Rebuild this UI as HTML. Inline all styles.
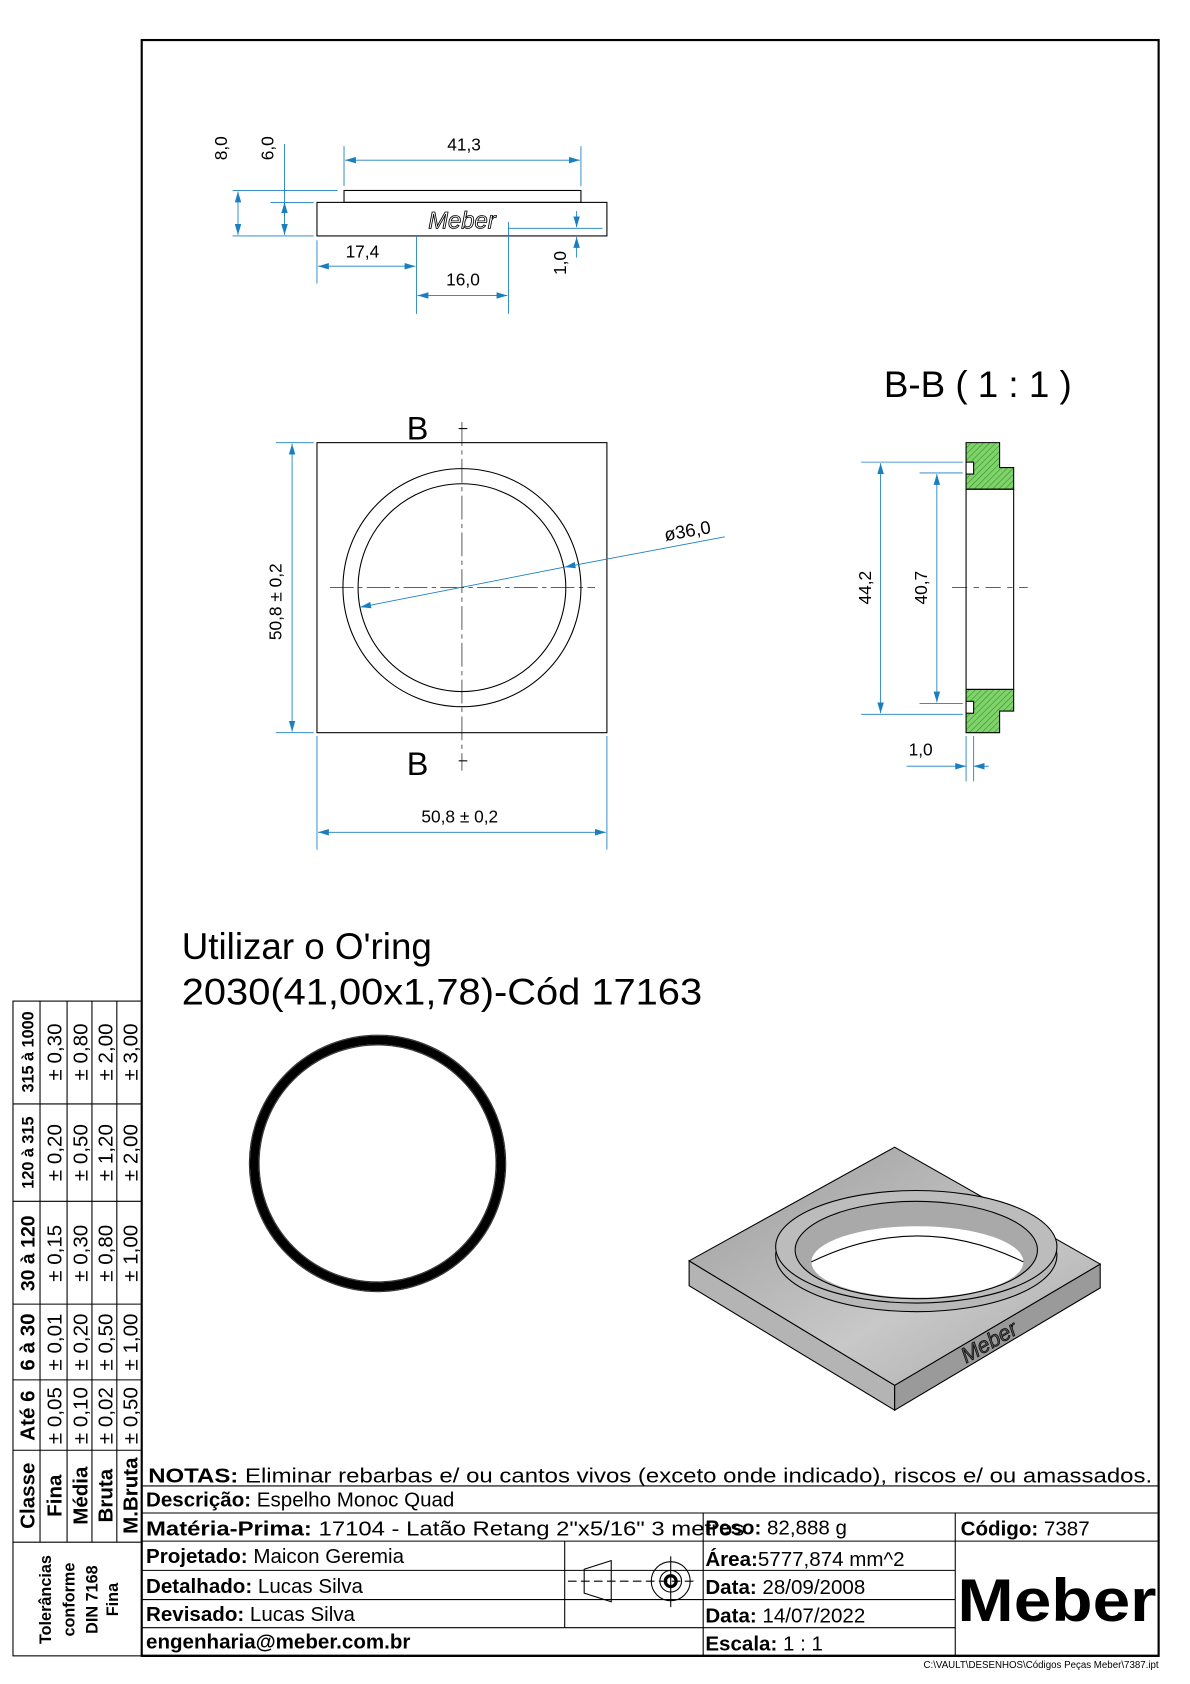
<!DOCTYPE html>
<html><head><meta charset="utf-8"><style>
html,body{margin:0;padding:0;background:#fff;}
svg{display:block;}
text{font-family:"Liberation Sans",Arial,sans-serif;}
</style></head><body>
<svg width="1190" height="1684" viewBox="0 0 1100 1556" preserveAspectRatio="none" xmlns="http://www.w3.org/2000/svg">
<defs>
<pattern id="h" width="4" height="4" patternUnits="userSpaceOnUse" patternTransform="rotate(45)">
<rect width="4" height="4" fill="#7fd36a"/><line x1="0" y1="0" x2="0" y2="4" stroke="#2e8b22" stroke-width="1"/>
</pattern>
<marker id="a" markerWidth="10" markerHeight="6" refX="10" refY="3" orient="auto-start-reverse" markerUnits="userSpaceOnUse"><path d="M0,0 L10,3 L0,6 z" fill="#1a7fc0"/></marker>
<linearGradient id="g1" x1="0" y1="0" x2="1" y2="1"><stop offset="0" stop-color="#9a9a9a"/><stop offset="0.6" stop-color="#c8c8c8"/><stop offset="1" stop-color="#a8a8a8"/></linearGradient>
</defs>
<rect x="131" y="37" width="940" height="1493" fill="none" stroke="#000" stroke-width="2"/>

<!-- top view -->
<g stroke="#000" stroke-width="1" fill="none">
<rect x="318" y="176" width="219" height="11"/>
<rect x="293" y="187" width="268" height="31"/>
</g>
<text x="427" y="211" font-size="22" font-style="italic" text-anchor="middle" fill="#fff" stroke="#000" stroke-width="0.8">Meber</text>
<g stroke="#1a7fc0" stroke-width="0.8" fill="none">
<line x1="318" y1="135" x2="318" y2="172"/><line x1="537" y1="135" x2="537" y2="172"/>
<line x1="319" y1="148" x2="536" y2="148" marker-start="url(#a)" marker-end="url(#a)"/>
<line x1="215" y1="176" x2="312" y2="176"/><line x1="215" y1="218" x2="290" y2="218"/><line x1="250" y1="187" x2="290" y2="187"/>
<line x1="220" y1="177" x2="220" y2="217" marker-start="url(#a)" marker-end="url(#a)"/>
<line x1="263" y1="133" x2="263" y2="217" marker-end="url(#a)"/>
<line x1="263" y1="187" x2="263" y2="200" marker-start="url(#a)"/>
<line x1="293" y1="222" x2="293" y2="262"/><line x1="385" y1="218" x2="385" y2="290"/><line x1="470" y1="205" x2="470" y2="290"/>
<line x1="294" y1="246" x2="384" y2="246" marker-start="url(#a)" marker-end="url(#a)"/>
<line x1="386" y1="273" x2="469" y2="273" marker-start="url(#a)" marker-end="url(#a)"/>
<line x1="470" y1="211" x2="557" y2="211"/>
<line x1="533" y1="195" x2="533" y2="210" marker-end="url(#a)"/>
<line x1="533" y1="238" x2="533" y2="219" marker-end="url(#a)"/>
</g>
<g font-size="16" fill="#000">
<text x="429" y="139" text-anchor="middle">41,3</text>
<text x="335" y="238" text-anchor="middle">17,4</text>
<text x="428" y="264" text-anchor="middle">16,0</text>
<text transform="translate(210,137) rotate(-90)" text-anchor="middle">8,0</text>
<text transform="translate(253,137) rotate(-90)" text-anchor="middle">6,0</text>
<text transform="translate(523,243) rotate(-90)" text-anchor="middle">1,0</text>
</g>

<!-- front view -->
<rect x="293" y="409" width="268" height="268" fill="none" stroke="#000" stroke-width="1"/>
<circle cx="427" cy="543" r="110" fill="none" stroke="#000" stroke-width="1"/>
<circle cx="427" cy="543" r="96" fill="none" stroke="#000" stroke-width="1"/>
<g stroke="#000" stroke-width="0.6" stroke-dasharray="22,4,4,4">
<line x1="305" y1="543" x2="550" y2="543"/><line x1="427" y1="390" x2="427" y2="712"/>
</g>
<line x1="424" y1="396" x2="432" y2="396" stroke="#000"/><line x1="424" y1="703" x2="432" y2="703" stroke="#000"/>
<text x="376" y="406" font-size="30">B</text>
<text x="376" y="716" font-size="30">B</text>
<g stroke="#1a7fc0" stroke-width="0.8" fill="none">
<line x1="670" y1="496" x2="522" y2="524" marker-end="url(#a)"/>
<line x1="522" y1="524" x2="333" y2="561" marker-end="url(#a)"/>
<line x1="255" y1="409" x2="290" y2="409"/><line x1="255" y1="677" x2="290" y2="677"/>
<line x1="270" y1="410" x2="270" y2="676" marker-start="url(#a)" marker-end="url(#a)"/>
<line x1="293" y1="680" x2="293" y2="785"/><line x1="561" y1="680" x2="561" y2="785"/>
<line x1="294" y1="769" x2="560" y2="769" marker-start="url(#a)" marker-end="url(#a)"/>
</g>
<text transform="translate(615,500) rotate(-10)" font-size="17">ø36,0</text>
<text transform="translate(260,556) rotate(-90)" font-size="16" text-anchor="middle">50,8 ± 0,2</text>
<text x="425" y="760" font-size="16" text-anchor="middle">50,8 ± 0,2</text>

<!-- section -->
<text x="817" y="367" font-size="34">B-B ( 1 : 1 )</text>
<path d="M893,409 H924 V432 H937 V452 H893 Z" fill="url(#h)" stroke="#000" stroke-width="1"/>
<path d="M893,677 H924 V657 H937 V637 H893 Z" fill="url(#h)" stroke="#000" stroke-width="1"/>
<rect x="893" y="427" width="7" height="11" fill="#fff" stroke="#000" stroke-width="1"/>
<rect x="893" y="648" width="7" height="11" fill="#fff" stroke="#000" stroke-width="1"/>
<rect x="893" y="452" width="44" height="185" fill="none" stroke="#000" stroke-width="1"/>
<line x1="880" y1="543" x2="950" y2="543" stroke="#000" stroke-width="0.6" stroke-dasharray="14,6,5,6"/>
<g stroke="#1a7fc0" stroke-width="0.8" fill="none">
<line x1="796" y1="427" x2="890" y2="427"/><line x1="796" y1="660" x2="890" y2="660"/>
<line x1="850" y1="437" x2="890" y2="437"/><line x1="850" y1="650" x2="890" y2="650"/>
<line x1="814" y1="428" x2="814" y2="659" marker-start="url(#a)" marker-end="url(#a)"/>
<line x1="866" y1="438" x2="866" y2="649" marker-start="url(#a)" marker-end="url(#a)"/>
<line x1="893" y1="680" x2="893" y2="722"/><line x1="900" y1="680" x2="900" y2="722"/>
<line x1="838" y1="708" x2="893" y2="708" marker-end="url(#a)"/>
<line x1="914" y1="708" x2="900" y2="708" marker-end="url(#a)"/>
</g>
<text transform="translate(805,543) rotate(-90)" font-size="16" text-anchor="middle">44,2</text>
<text transform="translate(857,543) rotate(-90)" font-size="16" text-anchor="middle">40,7</text>
<text x="851" y="698" font-size="16" text-anchor="middle">1,0</text>

<!-- note -->
<text x="168" y="886" font-size="34">Utilizar o O'ring</text>
<text x="168" y="928" font-size="34" textLength="481" lengthAdjust="spacingAndGlyphs">2030(41,00x1,78)-Cód 17163</text>

<!-- o-ring -->
<circle cx="349" cy="1075" r="114" fill="none" stroke="#000" stroke-width="8"/>
<circle cx="349" cy="1075" r="118.5" fill="none" stroke="#333" stroke-width="1"/>
<circle cx="349" cy="1075" r="109.5" fill="none" stroke="#333" stroke-width="1"/>

<!-- iso -->
<path d="M637,1165 L827,1280 L827,1303 L637,1188 Z" fill="#b4b4b4" stroke="#000" stroke-width="1"/>
<path d="M827,1280 L1017,1168 L1017,1190 L827,1303 Z" fill="#9a9a9a" stroke="#000" stroke-width="1"/>
<path d="M827,1060 L1017,1168 L827,1280 L637,1165 Z" fill="url(#g1)" stroke="#000" stroke-width="1"/>
<ellipse cx="847" cy="1160" rx="130" ry="52" fill="#b8b8b8" stroke="#000" stroke-width="1"/>
<ellipse cx="847" cy="1152" rx="130" ry="52" fill="#bcbcbc" stroke="#000" stroke-width="1"/>
<ellipse cx="847" cy="1155" rx="112" ry="45" fill="#a9a9a9" stroke="#000" stroke-width="1"/>
<ellipse cx="848" cy="1166" rx="98" ry="33" fill="#fff"/>
<path d="M750,1166 Q848,1118 946,1166" fill="none" stroke="#000" stroke-width="1"/>
<text transform="translate(893,1260) rotate(-30)" font-size="20" font-style="italic" fill="#555" stroke="#000" stroke-width="0.6">Meber</text>

<!-- tolerance table -->
<g stroke="#000" stroke-width="1" fill="none">
<rect x="12" y="925" width="119" height="605"/>
<line x1="37" y1="925" x2="37" y2="1425"/><line x1="62" y1="925" x2="62" y2="1425"/>
<line x1="85" y1="925" x2="85" y2="1425"/><line x1="108" y1="925" x2="108" y2="1425"/>
<line x1="12" y1="1425" x2="131" y2="1425"/><line x1="12" y1="1340" x2="131" y2="1340"/>
<line x1="12" y1="1275" x2="131" y2="1275"/><line x1="12" y1="1205" x2="131" y2="1205"/>
<line x1="12" y1="1110" x2="131" y2="1110"/><line x1="12" y1="1020" x2="131" y2="1020"/>
</g>
<g font-size="19" fill="#000">
<g font-weight="bold">
<text transform="translate(32,1382) rotate(-90)" text-anchor="middle">Classe</text>
<text transform="translate(32,1308) rotate(-90)" text-anchor="middle">Até 6</text>
<text transform="translate(32,1240) rotate(-90)" text-anchor="middle">6 à 30</text>
<text transform="translate(32,1158) rotate(-90)" text-anchor="middle" font-size="18">30 à 120</text>
<text transform="translate(31,1065) rotate(-90)" text-anchor="middle" font-size="15">120 à 315</text>
<text transform="translate(31,972) rotate(-90)" text-anchor="middle" font-size="15">315 à 1000</text>
<text transform="translate(57,1382) rotate(-90)" text-anchor="middle">Fina</text>
<text transform="translate(81,1382) rotate(-90)" text-anchor="middle">Média</text>
<text transform="translate(104,1382) rotate(-90)" text-anchor="middle">Bruta</text>
<text transform="translate(127,1382) rotate(-90)" text-anchor="middle">M.Bruta</text>
<g font-size="15"><text transform="translate(47,1478) rotate(-90)" text-anchor="middle">Tolerâncias</text>
<text transform="translate(69,1478) rotate(-90)" text-anchor="middle">conforme</text>
<text transform="translate(90,1478) rotate(-90)" text-anchor="middle">DIN 7168</text>
<text transform="translate(109,1478) rotate(-90)" text-anchor="middle">Fina</text></g>
</g>
<g>
<text transform="translate(57,1308) rotate(-90)" text-anchor="middle">± 0,05</text>
<text transform="translate(81,1308) rotate(-90)" text-anchor="middle">± 0,10</text>
<text transform="translate(104,1308) rotate(-90)" text-anchor="middle">± 0,02</text>
<text transform="translate(127,1308) rotate(-90)" text-anchor="middle">± 0,50</text>
<text transform="translate(57,1240) rotate(-90)" text-anchor="middle">± 0,01</text>
<text transform="translate(81,1240) rotate(-90)" text-anchor="middle">± 0,20</text>
<text transform="translate(104,1240) rotate(-90)" text-anchor="middle">± 0,50</text>
<text transform="translate(127,1240) rotate(-90)" text-anchor="middle">± 1,00</text>
<text transform="translate(57,1158) rotate(-90)" text-anchor="middle">± 0,15</text>
<text transform="translate(81,1158) rotate(-90)" text-anchor="middle">± 0,30</text>
<text transform="translate(104,1158) rotate(-90)" text-anchor="middle">± 0,80</text>
<text transform="translate(127,1158) rotate(-90)" text-anchor="middle">± 1,00</text>
<text transform="translate(57,1065) rotate(-90)" text-anchor="middle">± 0,20</text>
<text transform="translate(81,1065) rotate(-90)" text-anchor="middle">± 0,50</text>
<text transform="translate(104,1065) rotate(-90)" text-anchor="middle">± 1,20</text>
<text transform="translate(127,1065) rotate(-90)" text-anchor="middle">± 2,00</text>
<text transform="translate(57,972) rotate(-90)" text-anchor="middle">± 0,30</text>
<text transform="translate(81,972) rotate(-90)" text-anchor="middle">± 0,80</text>
<text transform="translate(104,972) rotate(-90)" text-anchor="middle">± 2,00</text>
<text transform="translate(127,972) rotate(-90)" text-anchor="middle">± 3,00</text>
</g>
</g>

<!-- title block -->
<g stroke="#000" stroke-width="1" fill="none">
<line x1="131" y1="1373" x2="1071" y2="1373"/>
<line x1="131" y1="1398" x2="1071" y2="1398"/>
<line x1="131" y1="1424" x2="1071" y2="1424"/>
<line x1="131" y1="1451" x2="883" y2="1451"/>
<line x1="131" y1="1478" x2="883" y2="1478"/>
<line x1="131" y1="1504" x2="883" y2="1504"/>
<line x1="522" y1="1424" x2="522" y2="1504"/>
<line x1="650" y1="1398" x2="650" y2="1530"/>
<line x1="883" y1="1398" x2="883" y2="1530"/>
<path d="M540,1450 L565,1442 L565,1480 L540,1472 Z"/>
<line x1="525" y1="1461" x2="645" y2="1461" stroke-dasharray="8,4"/>
<line x1="620" y1="1438" x2="620" y2="1485"/>
<circle cx="620" cy="1461" r="18"/><circle cx="620" cy="1461" r="10"/><circle cx="620" cy="1461" r="5" stroke-width="3"/>
</g>
<line x1="131" y1="1530" x2="1071" y2="1530" stroke="#000" stroke-width="2"/>
<g font-size="19" fill="#000">
<text x="137" y="1370" textLength="928" lengthAdjust="spacingAndGlyphs"><tspan font-weight="bold">NOTAS:</tspan> Eliminar rebarbas e/ ou cantos vivos (exceto onde indicado), riscos e/ ou amassados.</text>
<text x="135" y="1392"><tspan font-weight="bold">Descrição:</tspan> Espelho Monoc Quad</text>
<text x="135" y="1419" textLength="553" lengthAdjust="spacingAndGlyphs"><tspan font-weight="bold">Matéria-Prima:</tspan> 17104 - Latão Retang 2"x5/16" 3 metros</text>
<text x="652" y="1418"><tspan font-weight="bold">Peso:</tspan> 82,888 g</text>
<text x="888" y="1419"><tspan font-weight="bold">Código:</tspan> 7387</text>
<text x="135" y="1444"><tspan font-weight="bold">Projetado:</tspan> Maicon Geremia</text>
<text x="135" y="1472"><tspan font-weight="bold">Detalhado:</tspan> Lucas Silva</text>
<text x="135" y="1498"><tspan font-weight="bold">Revisado:</tspan> Lucas Silva</text>
<text x="135" y="1523" font-weight="bold">engenharia@meber.com.br</text>
<text x="652" y="1447"><tspan font-weight="bold">Área:</tspan>5777,874 mm^2</text>
<text x="652" y="1473"><tspan font-weight="bold">Data:</tspan> 28/09/2008</text>
<text x="652" y="1499"><tspan font-weight="bold">Data:</tspan> 14/07/2022</text>
<text x="652" y="1525"><tspan font-weight="bold">Escala:</tspan> 1 : 1</text>
<text x="885" y="1498" font-size="56" font-weight="bold" textLength="184" lengthAdjust="spacingAndGlyphs">Meber</text>
</g>
<text x="1071" y="1541" font-size="9" text-anchor="end">C:\VAULT\DESENHOS\Códigos Peças Meber\7387.ipt</text>
</svg>
</body></html>
